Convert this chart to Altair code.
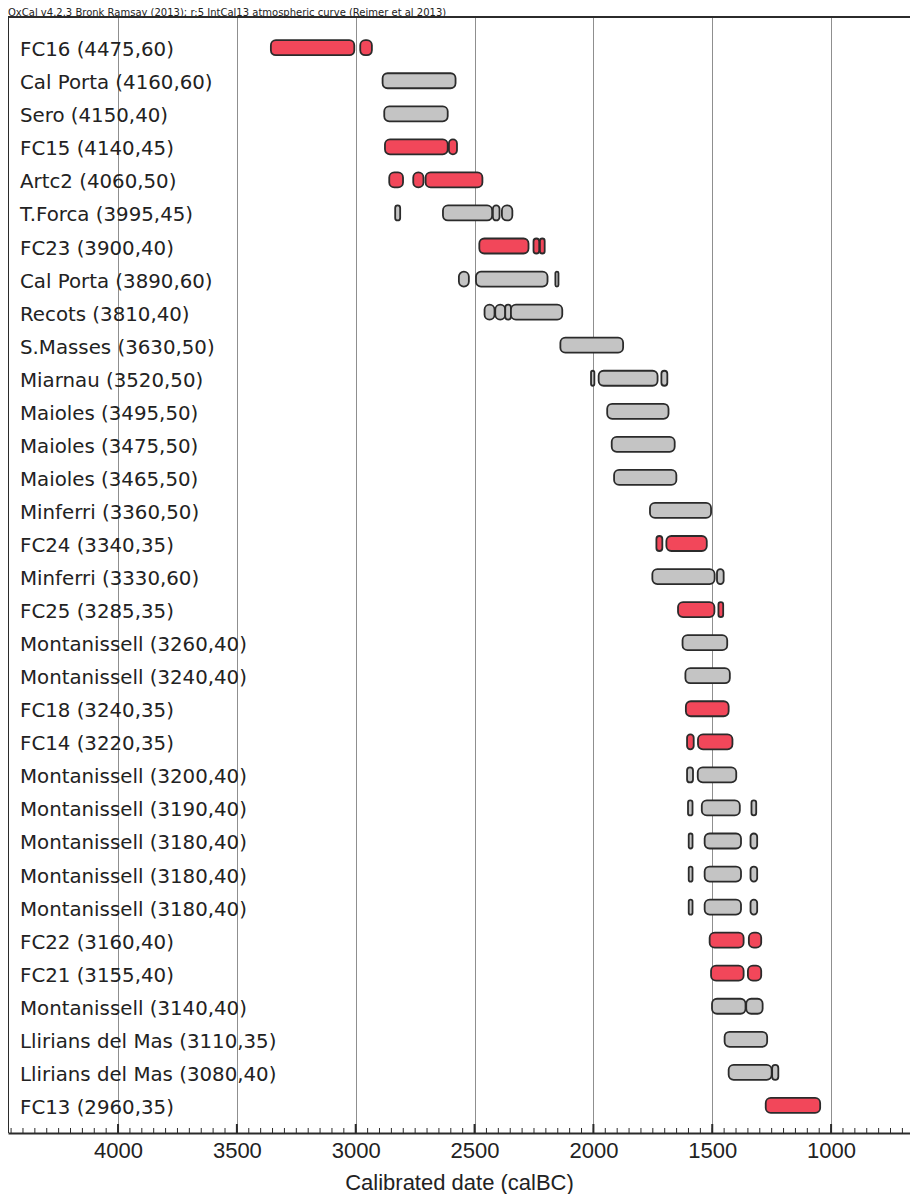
import altair as alt
import pandas as pd

title_text = "OxCal v4.2.3 Bronk Ramsay (2013); r:5 IntCal13 atmospheric curve (Reimer et al 2013)"
axis_title = "Calibrated date (calBC)"

labels = [
    "FC16 (4475,60)", "Cal Porta (4160,60)", "Sero (4150,40)", "FC15 (4140,45)",
    "Artc2 (4060,50)", "T.Forca (3995,45)", "FC23 (3900,40)", "Cal Porta (3890,60)",
    "Recots (3810,40)", "S.Masses (3630,50)", "Miarnau (3520,50)", "Maioles (3495,50)",
    "Maioles (3475,50)", "Maioles (3465,50)", "Minferri (3360,50)", "FC24 (3340,35)",
    "Minferri (3330,60)", "FC25 (3285,35)", "Montanissell (3260,40)", "Montanissell (3240,40)",
    "FC18 (3240,35)", "FC14 (3220,35)", "Montanissell (3200,40)", "Montanissell (3190,40)",
    "Montanissell (3180,40)", "Montanissell (3180,40)", "Montanissell (3180,40)", "FC22 (3160,40)",
    "FC21 (3155,40)", "Montanissell (3140,40)", "Llirians del Mas (3110,35)",
    "Llirians del Mas (3080,40)", "FC13 (2960,35)",
]

kinds = [
    "red", "gray", "gray", "red", "red", "gray", "red", "gray", "gray", "gray", "gray",
    "gray", "gray", "gray", "gray", "red", "gray", "red", "gray", "gray", "red", "red",
    "gray", "gray", "gray", "gray", "gray", "red", "red", "gray", "gray", "gray", "red",
]

# calibrated ranges (calBC) per sample: [start, end] pairs
ranges = [
    [[3357, 3006], [2981, 2932]],
    [[2887, 2580]],
    [[2880, 2613]],
    [[2877, 2613], [2608, 2574]],
    [[2859, 2801], [2758, 2715], [2706, 2467]],
    [[2834, 2813], [2633, 2426], [2423, 2395], [2385, 2341]],
    [[2480, 2273], [2252, 2228], [2225, 2205]],
    [[2566, 2524], [2494, 2193], [2160, 2147]],
    [[2458, 2416], [2413, 2371], [2371, 2347], [2347, 2131]],
    [[2139, 1875]],
    [[2010, 1996], [1978, 1730], [1714, 1689]],
    [[1942, 1684]],
    [[1923, 1658]],
    [[1913, 1651]],
    [[1762, 1505]],
    [[1735, 1710], [1693, 1523]],
    [[1752, 1490], [1480, 1452]],
    [[1644, 1491], [1474, 1454]],
    [[1625, 1437]],
    [[1613, 1426]],
    [[1611, 1431]],
    [[1606, 1578], [1560, 1415]],
    [[1606, 1581], [1561, 1399]],
    [[1602, 1583], [1544, 1384], [1335, 1315]],
    [[1599, 1583], [1532, 1379], [1339, 1311]],
    [[1599, 1583], [1532, 1379], [1339, 1311]],
    [[1599, 1583], [1532, 1379], [1339, 1311]],
    [[1511, 1368], [1346, 1294]],
    [[1505, 1368], [1350, 1294]],
    [[1501, 1360], [1357, 1288]],
    [[1448, 1269]],
    [[1431, 1250], [1248, 1222]],
    [[1275, 1046]],
]

major_ticks = [1000, 1500, 2000, 2500, 3000, 3500, 4000]
minor_ticks = list(range(700, 4451, 50))

W, H = 902, 1116

seg_rows = []
for i, (kind, segs) in enumerate(zip(kinds, ranges)):
    for a, b in segs:
        seg_rows.append({"row": i, "start": a, "end": b, "kind": kind})
segs_df = pd.DataFrame(seg_rows)
labels_df = pd.DataFrame({"row": list(range(len(labels))), "label": labels})
major_df = pd.DataFrame({"year": major_ticks})
minor_df = pd.DataFrame({"year": minor_ticks})
one = pd.DataFrame({"t": [title_text]})

xs = alt.Scale(domain=[668, 4463], reverse=True, nice=False, zero=False, padding=0)
ys = alt.Scale(domain=[-0.929, 32.835], reverse=True, nice=False, zero=False, padding=0)

xaxis = alt.Axis(
    values=major_ticks, format="d", grid=True, gridColor="#8f8f8f", gridWidth=1,
    ticks=False, tickSize=0, domain=True, domainColor="#2b2b2b", domainWidth=2,
    labelFont="Liberation Sans", labelFontSize=22, labelColor="#222222",
    labelPadding=7, labelFlush=False,
    title=axis_title, titleFont="Liberation Sans", titleFontSize=22,
    titleFontWeight="normal", titleColor="#222222", titlePadding=11,
)

bars = alt.Chart(segs_df).mark_bar(
    size=15, cornerRadius=5, stroke="#2b2b2b", strokeWidth=1.8
).encode(
    x=alt.X("start:Q", scale=xs, axis=xaxis),
    x2="end:Q",
    y=alt.Y("row:Q", scale=ys, axis=None),
    color=alt.Color("kind:N", scale=alt.Scale(domain=["red", "gray"],
                                              range=["#f2475a", "#c4c4c4"]), legend=None),
)

text = alt.Chart(labels_df).mark_text(
    align="left", baseline="alphabetic", dy=8.5, font="DejaVu Sans",
    fontSize=19.8, color="#222222"
).encode(
    x=alt.value(12),
    y=alt.Y("row:Q", scale=ys, axis=None),
    text="label:N",
)

minor = alt.Chart(minor_df).mark_rule(color="#2b2b2b", strokeWidth=1).encode(
    x=alt.X("year:Q", scale=xs, axis=xaxis),
    y=alt.value(H), y2=alt.value(H - 5),
)
major = alt.Chart(major_df).mark_rule(color="#2b2b2b", strokeWidth=2).encode(
    x=alt.X("year:Q", scale=xs, axis=xaxis),
    y=alt.value(H), y2=alt.value(H - 9),
)

left_frame = alt.Chart(one).mark_rule(color="#2b2b2b", strokeWidth=2).encode(
    x=alt.value(0), y=alt.value(0), y2=alt.value(H)
)
top_frame = alt.Chart(one).mark_rule(color="#2b2b2b", strokeWidth=2).encode(
    x=alt.value(0), x2=alt.value(W), y=alt.value(0)
)
head = alt.Chart(one).mark_text(
    align="left", baseline="top", font="DejaVu Sans", fontSize=10,
    color="#222222"
).encode(x=alt.value(0), y=alt.value(-9), text="t:N")

chart = alt.layer(bars, minor, major, text, left_frame, top_frame, head).properties(
    width=W, height=H,
    padding={"top": 9, "left": 0, "right": 0, "bottom": 61},
    autosize=alt.AutoSizeParams(type="none"),
).configure_view(stroke=None)

chart.save("out.html", embed_options={"renderer": "svg", "actions": False})
